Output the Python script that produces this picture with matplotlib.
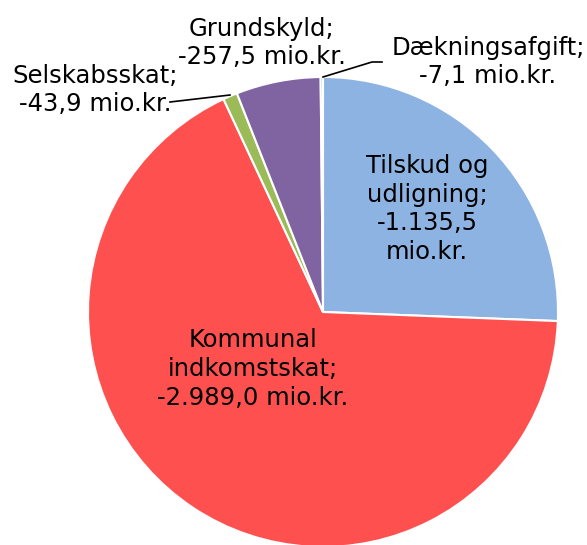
import matplotlib
matplotlib.use("Agg")
import matplotlib.pyplot as plt

categories = ["Tilskud og\nudligning", "Kommunal\nindkomstskat", "Selskabsskat", "Grundskyld", "Dækningsafgift"]
values = [1135.5, 2989.0, 43.9, 257.5, 7.1]
value_labels = ["-1.135,5\nmio.kr.", "-2.989,0 mio.kr.", "-43,9 mio.kr.", "-257,5 mio.kr.", "-7,1 mio.kr."]
colors = ["#8DB3E2", "#FF5050", "#9BBB59", "#8064A2", "#4BACC6"]

W, H = 587, 545
fig = plt.figure(figsize=(W / 100, H / 100), dpi=100)
ax = fig.add_axes([0, 0, 1, 1])
cx, cy, R = 323, 312, 235

def px(x, y):
    return ((x - cx) / R, (cy - y) / R)

ax.pie(values, colors=colors, startangle=90, counterclock=False, radius=1.0,
       wedgeprops=dict(edgecolor="white", linewidth=1.5))
ax.set_xlim(-cx / R, (W - cx) / R)
ax.set_ylim((cy - H) / R, cy / R)
ax.set_aspect("auto")
ax.axis("off")

fs = 17.5
label_pos = [(427, 209), (253, 369), (95, 90), (262, 43), (488, 62)]
texts = [
    categories[0] + ";\n" + value_labels[0],
    categories[1] + ";\n" + value_labels[1],
    categories[2] + ";\n" + value_labels[2],
    categories[3] + ";\n" + value_labels[3],
    categories[4] + ";\n" + value_labels[4],
]
for (x, y), t in zip(label_pos, texts):
    ax.text(*px(x, y), t, ha="center", va="center", fontsize=fs,
            family="DejaVu Sans", color="black", linespacing=1.25)

# leader lines
for pts in [[(323, 77), (372, 62), (382, 62)], [(170, 102), (230, 95)]]:
    xs, ys = zip(*[px(*p) for p in pts])
    ax.plot(xs, ys, color="black", lw=1.2)

fig.savefig("out.png", dpi=100)
